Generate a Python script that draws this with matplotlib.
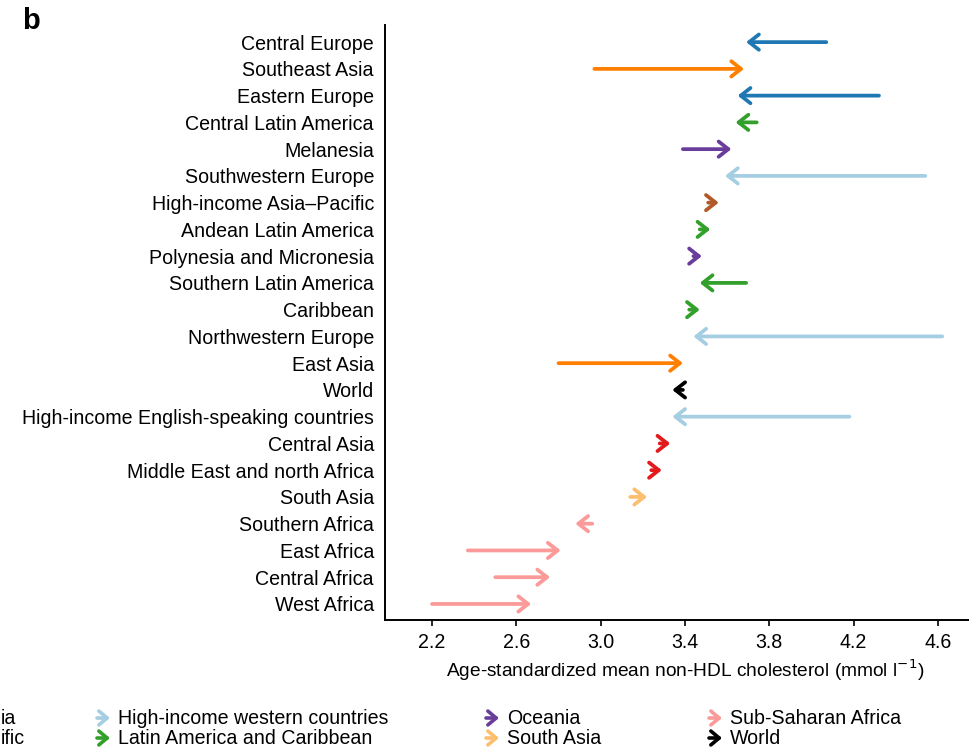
import matplotlib
matplotlib.use("Agg")
import matplotlib.pyplot as plt

plt.rcParams['font.family'] = ['Liberation Sans', 'DejaVu Sans']

regions = ["Central Europe", "Southeast Asia", "Eastern Europe", "Central Latin America",
           "Melanesia", "Southwestern Europe", "High-income Asia\u2013Pacific",
           "Andean Latin America", "Polynesia and Micronesia", "Southern Latin America",
           "Caribbean", "Northwestern Europe", "East Asia", "World",
           "High-income English-speaking countries", "Central Asia",
           "Middle East and north Africa", "South Asia", "Southern Africa",
           "East Africa", "Central Africa", "West Africa"]
start_vals = [4.07, 2.97, 4.32, 3.74, 3.39, 4.54, 3.51, 3.47, 3.44, 3.69,
              3.42, 4.62, 2.80, 3.39, 4.18, 3.28, 3.24, 3.14, 2.96, 2.37, 2.50, 2.20]
end_vals = [3.69, 3.68, 3.65, 3.64, 3.62, 3.59, 3.56, 3.52, 3.48, 3.47,
            3.47, 3.44, 3.39, 3.34, 3.34, 3.33, 3.29, 3.22, 2.88, 2.81, 2.76, 2.67]
groups = ["CEE", "ESEA", "CEE", "LAC", "OCE", "HIW", "HIAP", "LAC", "OCE", "LAC",
          "LAC", "HIW", "ESEA", "WLD", "HIW", "CAMENA", "CAMENA", "SA", "SSA",
          "SSA", "SSA", "SSA"]

group_colors = {
    "CEE": "#1f78b4", "CAMENA": "#e31a1c", "ESEA": "#ff7f00", "HIAP": "#b15928",
    "HIW": "#a6cee3", "LAC": "#33a02c", "OCE": "#6a3d9a", "SA": "#fdbf6f",
    "SSA": "#fb9a99", "WLD": "#000000",
}
legend_labels = ["High-income western countries", "Latin America and Caribbean",
                 "Oceania", "South Asia", "Sub-Saharan Africa", "World"]
legend_keys = ["HIW", "LAC", "OCE", "SA", "SSA", "WLD"]
# visible fragments of the legend column cropped at the left edge
cut_labels = ["ia", "ific"]
xticks = [2.2, 2.6, 3.0, 3.4, 3.8, 4.2, 4.6]

W, H = 969, 750
fig = plt.figure(figsize=(W / 100, H / 100), dpi=100)
ax = fig.add_axes([385 / W, 130 / H, 600 / W, 595 / H])

fs = 14.1
for i, (r, s, e, g) in enumerate(zip(regions, start_vals, end_vals, groups)):
    ax.annotate("", xy=(e, i), xytext=(s, i),
                arrowprops=dict(arrowstyle="->,head_length=0.7,head_width=0.55",
                                color=group_colors[g], lw=2.7, shrinkA=0, shrinkB=0,
                                mutation_scale=10))

ax.set_xlim(1.977, 4.823)
ax.set_ylim(len(regions) - 1 + 0.6, -0.64)
ax.set_yticks(range(len(regions)))
ax.set_yticklabels(regions, fontsize=fs)
ax.set_xticks(xticks)
ax.set_xticklabels([f"{t:.1f}" for t in xticks], fontsize=fs)
ax.tick_params(axis='y', length=0, pad=8)
ax.tick_params(axis='x', length=4, width=1.2, pad=5, direction='out')
ax.spines['top'].set_visible(False)
ax.spines['right'].set_visible(False)
ax.spines['left'].set_linewidth(1.4)
ax.spines['bottom'].set_linewidth(1.4)
ax.set_xlabel("Age-standardized mean non-HDL cholesterol (mmol l$^{-1}$)", fontsize=13.8,
              labelpad=4)

fig.text(22 / W, 1 - 21 / H, "b", fontsize=21, fontweight='bold', ha='left', va='center')

# legend (manually placed, cropped at left)
rows_y = [718, 738]
col_arrow_x = [97, 486, 709]
for k, (lab, key) in enumerate(zip(legend_labels, legend_keys)):
    col, row = divmod(k, 2)
    y = 1 - rows_y[row] / H
    x0 = col_arrow_x[col]
    fig.patches.append(matplotlib.patches.FancyArrowPatch(
        (x0 / W, y), ((x0 + 13) / W, y), transform=fig.transFigure,
        arrowstyle="->,head_length=0.6,head_width=0.5", mutation_scale=10,
        color=group_colors[key], lw=2.6, shrinkA=0, shrinkB=0))
    fig.text((x0 + 21) / W, y, lab, fontsize=fs, ha='left', va='center')
for row, lab in enumerate(cut_labels):
    fig.text(1 / W, 1 - rows_y[row] / H, lab, fontsize=fs, ha='left', va='center')

fig.savefig("out.png", dpi=100)
